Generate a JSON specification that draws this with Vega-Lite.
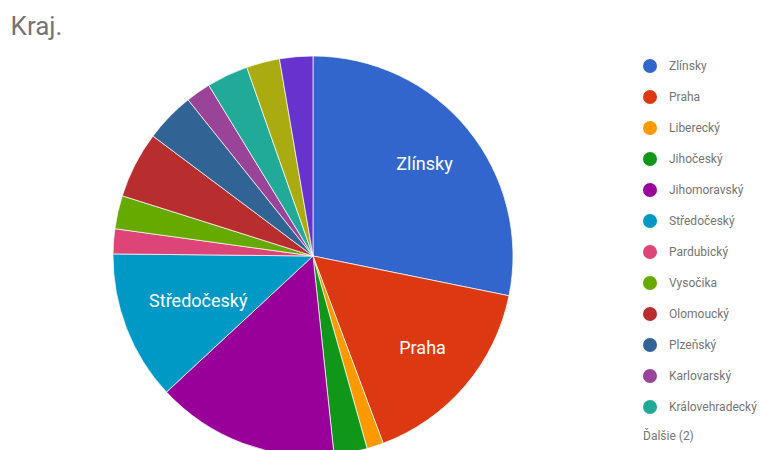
{
  "$schema": "https://vega.github.io/schema/vega-lite/v6.json",
  "width": 400,
  "height": 388,
  "autosize": {"type": "none"},
  "padding": {"left": 113, "top": 62, "right": 251, "bottom": 0},
  "background": "white",
  "title": {
    "text": "Kraj.",
    "anchor": "start",
    "dx": -101,
    "dy": 35,
    "offset": 29,
    "baseline": "alphabetic",
    "font": "Roboto",
    "fontSize": 26,
    "fontWeight": "normal",
    "color": "#757575"
  },
  "data": {
    "values": [
      {"i": 1, "kraj": "Zlínsky", "count": 42},
      {"i": 2, "kraj": "Praha", "count": 24},
      {"i": 3, "kraj": "Liberecký", "count": 2},
      {"i": 4, "kraj": "Jihočeský", "count": 4},
      {"i": 5, "kraj": "Jihomoravský", "count": 22},
      {"i": 6, "kraj": "Středočeský", "count": 18},
      {"i": 7, "kraj": "Pardubický", "count": 3},
      {"i": 8, "kraj": "Vysočika", "count": 4},
      {"i": 9, "kraj": "Olomoucký", "count": 8},
      {"i": 10, "kraj": "Plzeňský", "count": 6},
      {"i": 11, "kraj": "Karlovarský", "count": 3},
      {"i": 12, "kraj": "Královehradecký", "count": 5},
      {"i": 13, "kraj": "Ústecký", "count": 4},
      {"i": 14, "kraj": "Moravskoslezský", "count": 4}
    ]
  },
  "encoding": {
    "theta": {"field": "count", "type": "quantitative", "stack": true},
    "order": {"field": "i", "type": "quantitative"}
  },
  "layer": [
    {
      "mark": {"type": "arc", "radius": 200, "stroke": "#ffffff", "strokeWidth": 0.7},
      "encoding": {
        "color": {
          "field": "kraj",
          "type": "nominal",
          "scale": {
            "domain": ["Zlínsky", "Praha", "Liberecký", "Jihočeský", "Jihomoravský", "Středočeský", "Pardubický", "Vysočika", "Olomoucký", "Plzeňský", "Karlovarský", "Královehradecký", "Ústecký", "Moravskoslezský"],
            "range": ["#3366cc", "#dc3912", "#ff9900", "#109618", "#990099", "#0099c6", "#dd4477", "#66aa00", "#b82e2e", "#316395", "#994499", "#22aa99", "#aaaa11", "#6633cc"]
          },
          "legend": {
            "orient": "none",
            "legendX": 530,
            "legendY": -3,
            "padding": 0,
            "values": ["Zlínsky", "Praha", "Liberecký", "Jihočeský", "Jihomoravský", "Středočeský", "Pardubický", "Vysočika", "Olomoucký", "Plzeňský", "Karlovarský", "Královehradecký"],
            "title": "Ďalšie (2)",
            "titleOrient": "bottom",
            "titleFont": "Roboto",
            "titleFontSize": 12,
            "titleFontWeight": "normal",
            "titleColor": "#757575",
            "titlePadding": 17,
            "labelFont": "Roboto",
            "labelFontSize": 12,
            "labelColor": "#757575",
            "labelOffset": 12,
            "symbolType": "circle",
            "symbolSize": 196,
            "symbolStrokeWidth": 0,
            "rowPadding": 17
          }
        }
      }
    },
    {
      "mark": {"type": "text", "radius": 144, "font": "Roboto", "fontSize": 18, "fill": "#ffffff", "align": "center", "baseline": "middle"},
      "encoding": {
        "text": {
          "condition": {"test": "datum.kraj === 'Zlínsky' || datum.kraj === 'Praha'", "field": "kraj", "type": "nominal"},
          "value": ""
        }
      }
    },
    {
      "mark": {"type": "text", "radius": 123, "font": "Roboto", "fontSize": 18, "fill": "#ffffff", "align": "center", "baseline": "middle", "dy": 2},
      "encoding": {
        "text": {
          "condition": {"test": "datum.kraj === 'Středočeský'", "field": "kraj", "type": "nominal"},
          "value": ""
        }
      }
    }
  ]
}
